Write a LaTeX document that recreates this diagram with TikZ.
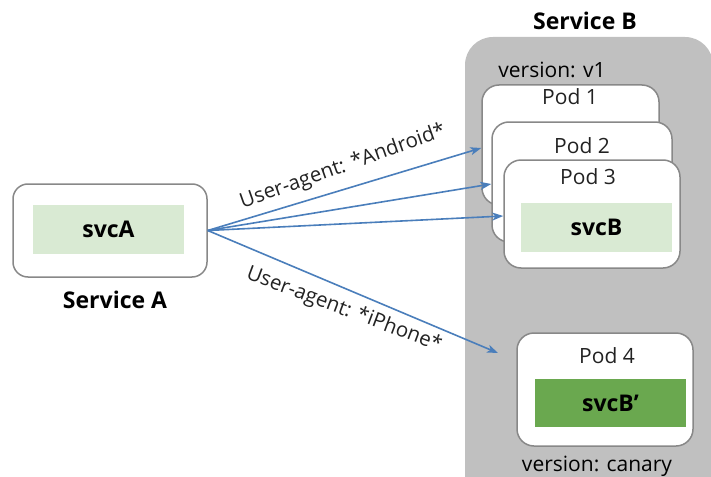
\documentclass[tikz,border=0pt]{standalone}
\usepackage{fontspec}
\setmainfont{Open Sans}
\usetikzlibrary{arrows.meta}

\definecolor{paleGreen}{HTML}{D9EAD3}
\definecolor{deepGreen}{HTML}{6AA84F}
\definecolor{groupGray}{HTML}{C0C0C0}
\definecolor{edgeGray}{HTML}{888888}
\definecolor{flowBlue}{HTML}{4A7EBB}
\definecolor{inkGray}{HTML}{222222}

\tikzset{
  podbox/.style={draw=edgeGray, line width=1.5pt, fill=white, rounded corners=17pt,
    inner sep=0pt},
  svcbox/.style={inner sep=0pt, font=\fontsize{23}{27}\selectfont\bfseries},
  title/.style={inner sep=0pt, font=\fontsize{23}{27}\selectfont\bfseries},
  podlabel/.style={inner sep=0pt, text=inkGray, font=\fontsize{21}{25}\selectfont},
  tag/.style={inner sep=0pt, text=black, font=\fontsize{21}{25}\selectfont},
  rulelabel/.style={inner sep=0pt, text=inkGray, font=\fontsize{20.5}{24}\selectfont},
  flow/.style={draw=flowBlue, line width=1.6pt, -{Stealth[length=11pt,width=8pt,inset=3pt]}}
}

\begin{document}
\begin{tikzpicture}[x=1pt,y=-1pt]
\useasboundingbox (0,0) rectangle (711,476);
\clip (0,0) rectangle (711,476);

% Service B group
\fill[groupGray, rounded corners=28pt] (465,37) rectangle (713,520);
\node[title] (titleB) at (585,21) {Service B};
\node[tag] (v1) at (552,70) {version: v1};
\node[tag, anchor=base] (canary) at (597,471) {version: canary};

% stable pods
\node[podbox, minimum width=177pt, minimum height=120pt] (p1) at (570.5,145) {};
\node[podlabel] (p1l) at (570,97) {Pod 1};
\node[podbox, minimum width=180pt, minimum height=120pt] (p2) at (582,182) {};
\node[podlabel] (p2l) at (582,145.5) {Pod 2};
\node[podbox, minimum width=176pt, minimum height=108pt] (p3) at (592,214) {};
\node[podlabel] (p3l) at (588,177) {Pod 3};
\node[svcbox, fill=paleGreen, minimum width=151pt, minimum height=49pt] (svcB) at (596.5,227.5) {svcB};

% canary pod
\node[podbox, minimum width=176pt, minimum height=113pt] (p4) at (605,389.5) {};
\node[podlabel] (p4l) at (607,356) {Pod 4};
\node[svcbox, fill=deepGreen, minimum width=151pt, minimum height=48pt] (svcB2) at (610.5,403) {svcB’};

% Service A
\node[podbox, rounded corners=15pt, minimum width=194pt, minimum height=93pt] (A) at (110,230.5) {};
\node[svcbox, fill=paleGreen, minimum width=151pt, minimum height=49pt] (svcA) at (108.5,229.5) {svcA};
\node[title] (titleA) at (115,300) {Service A};

% routing
\coordinate (canaryIn) at (498,353);
\draw[flow] (A.east) -- ([yshift=-3pt]p1.west);
\draw[flow] (A.east) -- ([yshift=-2pt]p2.west);
\draw[flow] (A.east) -- ([yshift=-2pt]p3.west);
\draw[flow] (A.east) -- (canaryIn);

\node[rulelabel, rotate=19.5] (android) at (343,167) {User-agent: *Android*};
\node[rulelabel, rotate=-20.5] (iphone) at (344,310) {User-agent: *iPhone*};
\end{tikzpicture}
\end{document}
